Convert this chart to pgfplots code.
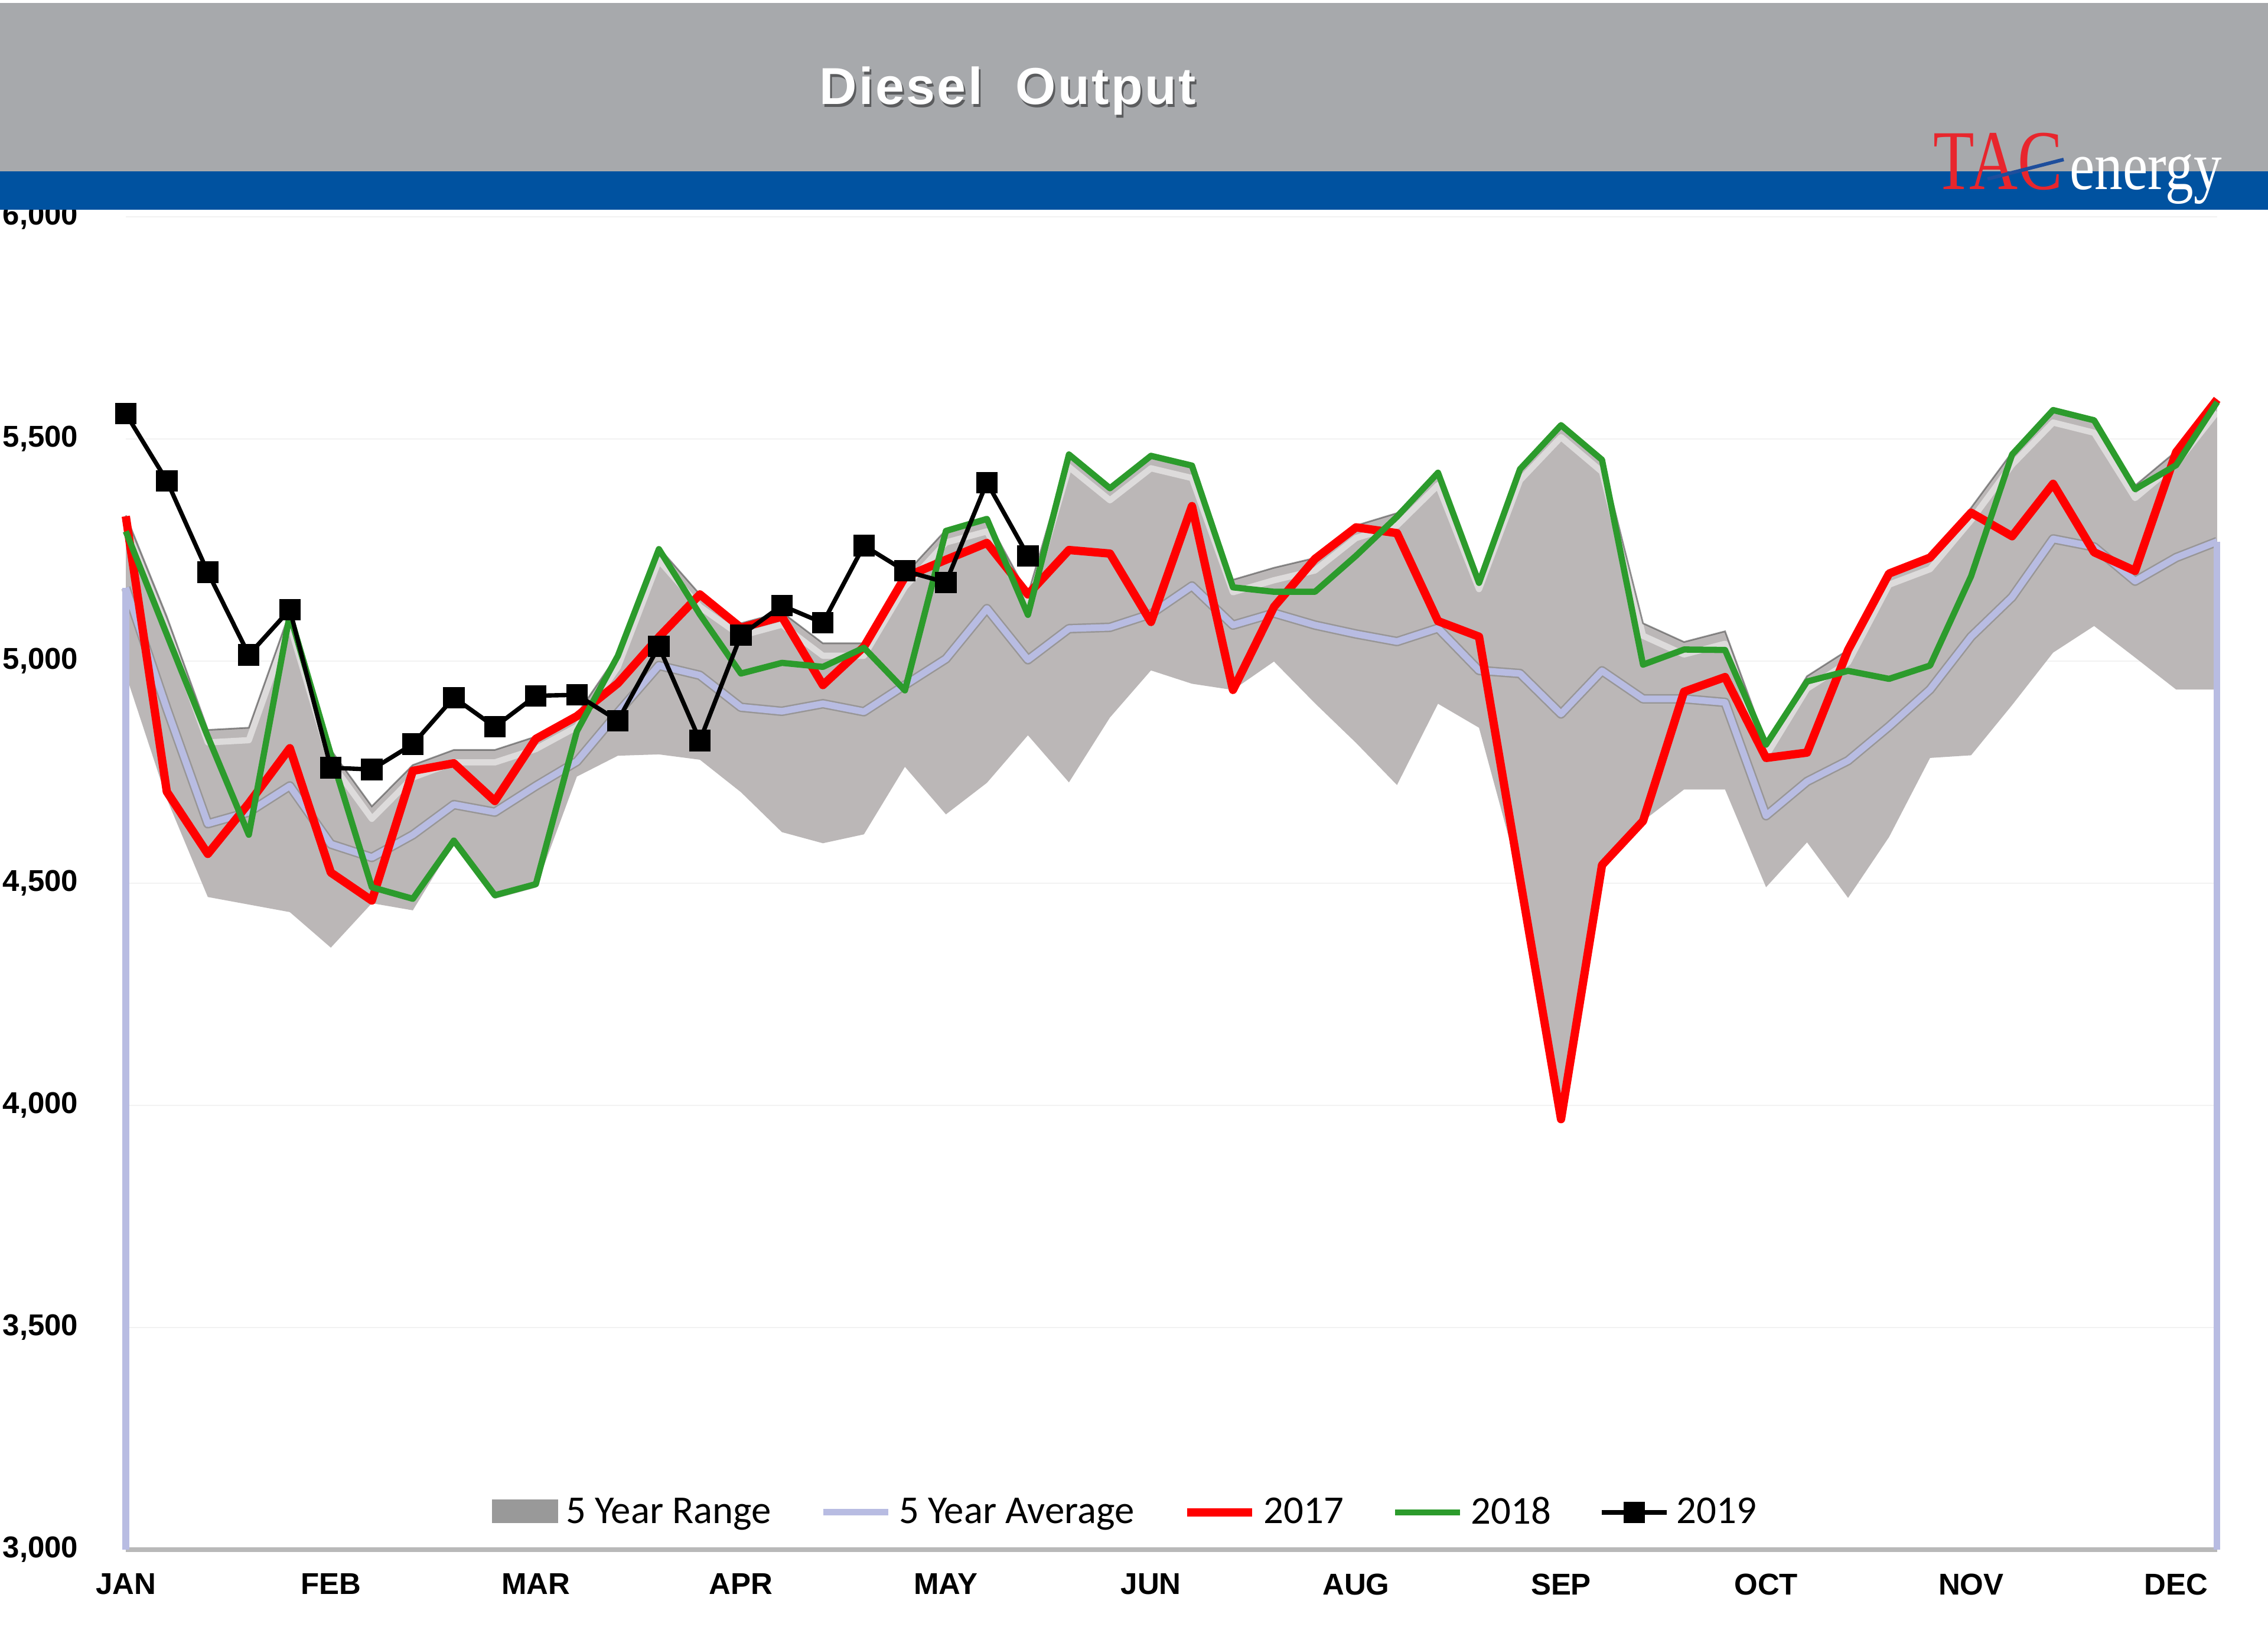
\documentclass[border=0pt]{standalone}
\usepackage{fontspec}
\setmainfont{Liberation Sans}
\newfontfamily\carlito{Carlito}
\newfontfamily\logofont{Liberation Serif}
\newfontfamily\titlefont[LetterSpace=4]{Liberation Sans}
\usepackage{graphicx}
\usepackage{pgfplots}
\usepackage{pgfplotstable}
\pgfplotsset{compat=1.18}

\definecolor{hdrgrey}{RGB}{167,169,172}
\definecolor{hdrblue}{RGB}{0,82,160}
\definecolor{rangegrey}{RGB}{187,183,183}
\definecolor{avgcol}{RGB}{184,188,226}
\definecolor{c2017}{RGB}{255,0,0}
\definecolor{c2018}{RGB}{44,155,44}
\definecolor{logored}{RGB}{232,38,45}
\definecolor{logoblue}{RGB}{30,78,156}
\definecolor{gridcol}{RGB}{242,242,242}

% week  upper lower  avg  y2017 y2018
\pgfplotstableread{
x up lo avg r g
0 5328 4970 5165 5326 5292
1 5100 4690 4893 4706 5060
2 4845 4469 4634 4566 4830
3 4850 4452 4660 4680 4609
4 5110 4435 4719 4804 5105
5 4800 4355 4588 4524 4790
6 4673 4455 4558 4461 4491
7 4766 4439 4609 4753 4465
8 4800 4590 4677 4770 4596
9 4800 4465 4660 4685 4473
10 4830 4490 4719 4825 4498
11 4880 4740 4774 4876 4842
12 5015 4787 4884 4950 5012
13 5255 4790 4990 5054 5252
14 5150 4778 4968 5150 5105
15 5085 4705 4896 5075 4972
16 5110 4615 4887 5100 4996
17 5040 4590 4904 4946 4987
18 5040 4610 4886 5032 5030
19 5195 4762 4946 5189 4934
20 5295 4655 5005 5228 5293
21 5320 4726 5118 5266 5320
22 5150 4833 5003 5150 5104
23 5465 4727 5073 5250 5465
24 5390 4873 5076 5242 5389
25 5462 4979 5106 5088 5462
26 5440 4949 5169 5349 5440
27 5183 4935 5081 4935 5166
28 5210 4999 5108 5122 5156
29 5232 4905 5081 5230 5156
30 5305 4816 5061 5301 5237
31 5333 4721 5044 5288 5325
32 5424 4904 5074 5090 5424
33 5190 4850 4979 5055 5176
34 5435 4510 4972 4510 5432
35 5532 3969 4881 3969 5531
36 5454 4541 4978 4541 5453
37 5085 4640 4915 4640 4992
38 5043 4711 4915 4931 5026
39 5067 4711 4907 4964 5025
40 4815 4491 4652 4782 4812
41 4966 4592 4729 4794 4954
42 5025 4467 4776 5025 4978
43 5200 4604 4853 5197 4960
44 5235 4782 4936 5233 4990
45 5345 4788 5055 5334 5191
46 5470 4901 5144 5281 5465
47 5565 5019 5275 5399 5565
48 5542 5079 5257 5245 5542
49 5395 5008 5180 5203 5387
50 5472 4936 5233 5470 5441
51 5589 4936 5269 5589 5583
}\rng

% 5-year range band outline: upper edge left to right, then lower edge right to left
\pgfplotstableread{
x y
0 5328
1 5100
2 4845
3 4850
4 5110
5 4800
6 4673
7 4766
8 4800
9 4800
10 4830
11 4880
12 5015
13 5255
14 5150
15 5085
16 5110
17 5040
18 5040
19 5195
20 5295
21 5320
22 5150
23 5465
24 5390
25 5462
26 5440
27 5183
28 5210
29 5232
30 5305
31 5333
32 5424
33 5190
34 5435
35 5532
36 5454
37 5085
38 5043
39 5067
40 4815
41 4966
42 5025
43 5200
44 5235
45 5345
46 5470
47 5565
48 5542
49 5395
50 5472
51 5589
51 4936
50 4936
49 5008
48 5079
47 5019
46 4901
45 4788
44 4782
43 4604
42 4467
41 4592
40 4491
39 4711
38 4711
37 4640
36 4541
35 3969
34 4510
33 4850
32 4904
31 4721
30 4816
29 4905
28 4999
27 4935
26 4949
25 4979
24 4873
23 4727
22 4833
21 4726
20 4655
19 4762
18 4610
17 4590
16 4615
15 4705
14 4778
13 4790
12 4787
11 4740
10 4490
9 4465
8 4590
7 4439
6 4455
5 4355
4 4435
3 4452
2 4469
1 4690
0 4970
}\band

\pgfplotstableread{
x y
0 5557
1 5406
2 5200
3 5014
4 5116
5 4760
6 4756
7 4813
8 4918
9 4852
10 4922
11 4924
12 4866
13 5033
14 4821
15 5058
16 5125
17 5086
18 5260
19 5203
20 5177
21 5402
22 5237
}\ynine

\begin{document}
\begin{tikzpicture}
\path[use as bounding box] (0,0) rectangle (38.4,27.81);
\fill[white] (0,0) rectangle (38.4,27.81);
\begin{axis}[
  at={(2.13cm,1.58cm)}, anchor=south west,
  scale only axis, width=35.41cm, height=22.56cm,
  xmin=0, xmax=51, ymin=3000, ymax=6000,
  clip=false,
  axis x line*=bottom, axis y line*=left,
  x axis line style={-, draw=gray!55, line width=2.5pt},
  y axis line style={draw=none},
  major tick length=0pt,
  xtick={0,5,...,50},
  xticklabels={JAN,FEB,MAR,APR,MAY,JUN,AUG,SEP,OCT,NOV,DEC},
  ytick={3000,3500,...,6000},
  ymajorgrids,
  grid style={draw=gridcol, line width=0.6pt},
  yticklabel style={font=\bfseries\fontsize{14.5}{16}\selectfont, inner sep=0pt, xshift=-0.8cm},
  xticklabel style={font=\bfseries\fontsize{14.5}{16}\selectfont, inner sep=0pt, yshift=-0.4cm},
  /pgf/number format/1000 sep={,},
  /pgf/number format/assume math mode=true,
  legend columns=5,
  legend cell align=left,
  legend image code/.code={\draw[mark repeat=2,mark phase=2,#1] plot coordinates {(0cm,0cm) (0.55cm,0cm) (1.1cm,0cm)};},
  legend style={at={(0.175,0.028)}, anchor=west, draw=none, fill=none, inner sep=0pt,
    font=\carlito\fontsize{19}{22}\selectfont,
    /tikz/every odd column/.append style={column sep=0.06cm},
    /tikz/every even column/.append style={column sep=0.75cm}},
]
\addplot[fill=rangegrey, draw=none,
  legend image code/.code={\fill[gray!28] (0cm,-0.17cm) rectangle (1.1cm,0.21cm);
     \fill[gray!50] (0cm,-0.17cm) rectangle (1.1cm,0.0cm);
     \fill[gray!70] (0cm,-0.17cm) rectangle (1.1cm,-0.09cm);
     \draw[gray!80, line width=0.5pt] (0cm,-0.17cm) rectangle (1.1cm,0.21cm);}]
  table[x=x,y=y]{\band};
\addlegendentry{5 Year Range}
\begin{scope}[transform canvas={yshift=-3pt}]
\addplot[forget plot, draw=white, opacity=0.5, line width=3pt, line join=round] table[x=x,y=up]{\rng};
\end{scope}
\addplot[forget plot, draw=gray!60!black, opacity=0.6, line width=0.8pt] table[x=x,y=up]{\rng};

% shadow under the average line
\addplot[forget plot, draw=gray!70!black, opacity=0.35, line width=4.6pt, line join=round] table[x=x,y=avg]{\rng};
\addplot[forget plot, avgcol, line width=3.2pt] coordinates {(0,3000) (0,5165)};
\addplot[forget plot, avgcol, line width=3.2pt] coordinates {(51,5269) (51,3000)};
\addplot[avgcol, line width=3.2pt, line join=round] table[x=x,y=avg]{\rng};
\addlegendentry{5 Year Average}
\addplot[c2017, line width=4pt, line join=round] table[x=x,y=r]{\rng};
\addlegendentry{2017}
\addplot[c2018, line width=3pt, line join=round] table[x=x,y=g]{\rng};
\addlegendentry{2018}
\addplot[black, line width=2.1pt, mark=square*, mark size=4.1pt] table[x=x,y=y]{\ynine};
\addlegendentry{2019}
\end{axis}

% header
\fill[hdrgrey] (0,24.91) rectangle (38.4,27.76);
\fill[hdrblue] (0,24.26) rectangle (38.4,24.91);
\node[anchor=base, inner sep=0pt, text=black, opacity=0.45, font=\titlefont\bfseries\fontsize{25}{30}\selectfont] at (17.09,25.99) {Diesel\ \ Output};
\node[anchor=base, inner sep=0pt, text=white, font=\titlefont\bfseries\fontsize{25}{30}\selectfont] at (17.06,26.04) {Diesel\ \ Output};
% logo
\node[anchor=base west, inner sep=0pt, text=logored, font=\logofont\fontsize{41}{45}\selectfont] at (32.73,24.60) {\scalebox{0.79}[1]{TAC}};
\node[anchor=base west, inner sep=0pt, text=white, font=\logofont\fontsize{33}{36}\selectfont] at (35.04,24.60) {\scalebox{0.82}[1]{energy}};
\draw[logoblue, line width=0.06cm] (33.65,24.78) -- (34.94,25.11);
\end{tikzpicture}
\end{document}
